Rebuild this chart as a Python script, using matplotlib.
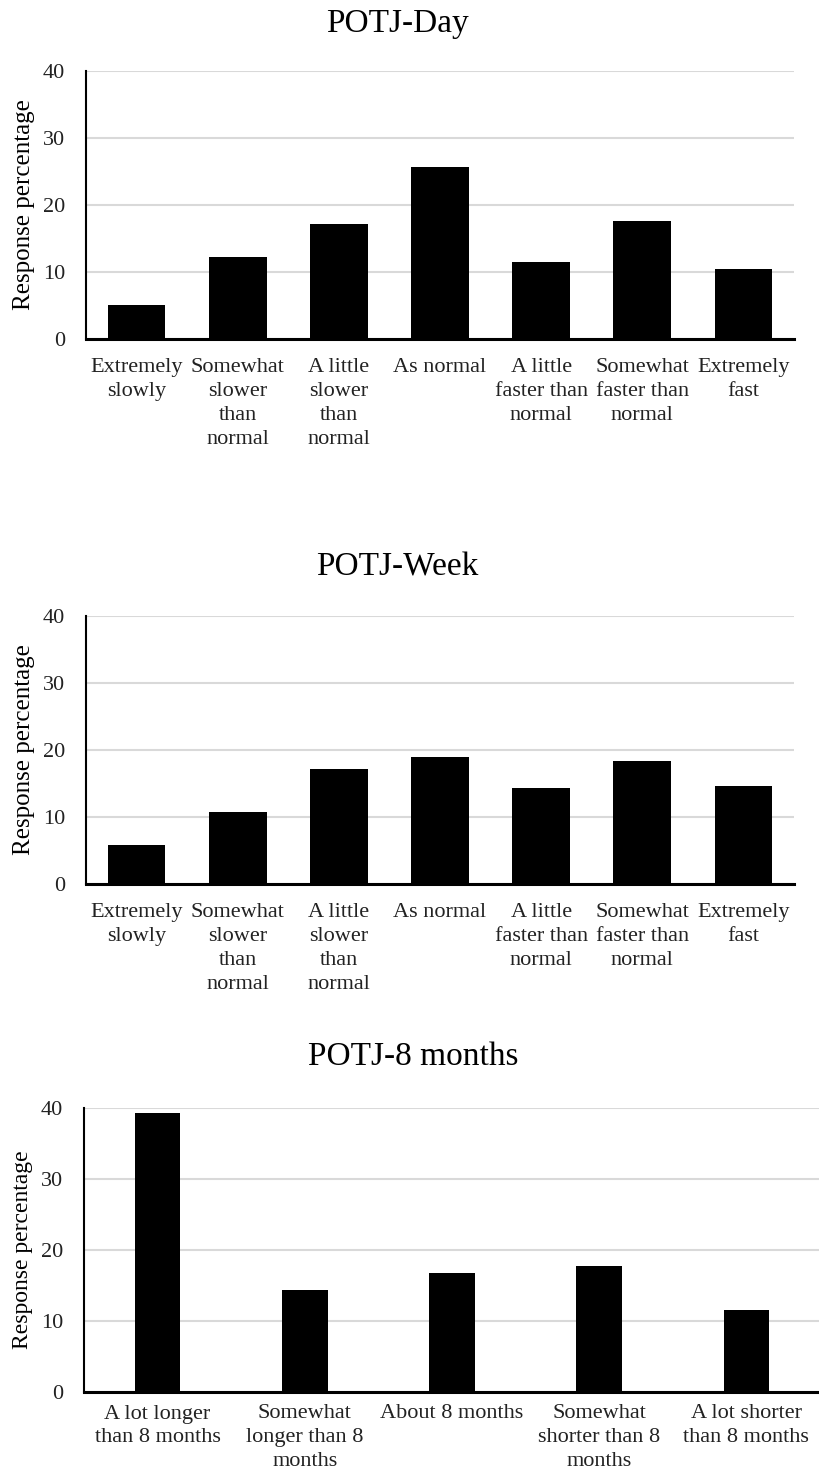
import matplotlib
matplotlib.use("Agg")
import matplotlib.pyplot as plt
import numpy as np

plt.rcParams['font.family'] = ['Liberation Serif', 'DejaVu Serif']

speed_labels = ["Extremely\nslowly", "Somewhat\nslower\nthan\nnormal", "A little\nslower\nthan\nnormal",
                "As normal", "A little\nfaster than\nnormal", "Somewhat\nfaster than\nnormal", "Extremely\nfast"]
day_values = [5.1, 12.3, 17.2, 25.6, 11.5, 17.6, 10.4]
week_values = [5.8, 10.7, 17.2, 19.0, 14.3, 18.3, 14.6]
month_labels = ["A lot longer\nthan 8 months", "Somewhat\nlonger than 8\nmonths", "About 8 months",
                "Somewhat\nshorter than 8\nmonths", "A lot shorter\nthan 8 months"]
month_values = [39.3, 14.4, 16.8, 17.8, 11.5]
yticks = [0, 10, 20, 30, 40]
titles = ["POTJ-Day", "POTJ-Week", "POTJ-8 months"]

W, H = 820, 1479
fig = plt.figure(figsize=(W / 100, H / 100), dpi=100)


def panel(rect, labels, values, width, title, title_xy, ylab_size, xpad):
    ax = fig.add_axes(rect)
    x = np.arange(len(values))
    ax.bar(x, values, width=width, color='black', zorder=3)
    ax.set_xlim(-0.5, len(values) - 0.5)
    ax.set_ylim(0, 40)
    ax.set_yticks(yticks)
    ax.set_yticklabels([str(t) for t in yticks], fontsize=16)
    ax.set_xticks(x)
    ax.set_xticklabels(labels, fontsize=16, linespacing=1.34)
    ax.tick_params(axis='both', length=0, colors='#222222')
    ax.tick_params(axis='y', pad=15)
    ax.tick_params(axis='x', pad=xpad)
    ax.yaxis.grid(True, color='#d9d9d9', linewidth=1.5, zorder=0)
    for s in ['top', 'right']:
        ax.spines[s].set_visible(False)
    ax.spines['left'].set_linewidth(1.5)
    ax.spines['bottom'].set_linewidth(2.2)
    ax.spines['left'].set_zorder(4)
    ax.spines['bottom'].set_zorder(4)
    ax.set_ylabel("Response percentage", fontsize=ylab_size, labelpad=6)
    fig.text(title_xy[0], title_xy[1], title, fontsize=24, ha='center', va='baseline')
    return ax


panel([86 / W, 1 - 339 / H, 708 / W, 268 / H], speed_labels, day_values, 0.57, titles[0],
      (397 / W, 1 - 32 / H), 18, 14)
panel([86 / W, 1 - 884 / H, 708 / W, 268 / H], speed_labels, week_values, 0.57, titles[1],
      (397 / W, 1 - 576 / H), 18, 14)
panel([84 / W, 1 - 1392 / H, 736 / W, 284 / H], month_labels, month_values, 0.31, titles[2],
      (413 / W, 1 - 1065 / H), 17, 9)

fig.savefig("out.png", dpi=100, facecolor='white')
